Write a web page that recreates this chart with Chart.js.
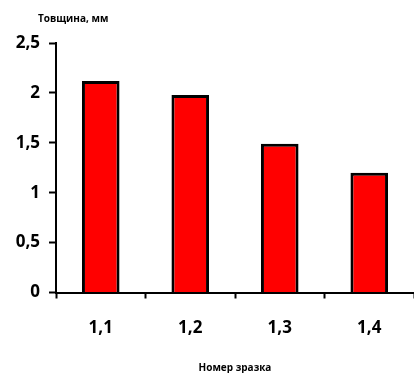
<!DOCTYPE html>
<html>
<head>
<meta charset="utf-8">
<script src="https://cdn.jsdelivr.net/npm/chart.js@4/dist/chart.umd.min.js"></script>
<style>
  html, body { margin: 0; padding: 0; background: #fff; }
  #wrap { width: 414px; height: 373px; }
</style>
</head>
<body>
<div id="wrap"><canvas id="c" width="414" height="373"></canvas></div>
<script>
// Sample numbers and measured thickness
const categories = ['1,1', '1,2', '1,3', '1,4'];
const thickness = [2.12, 1.98, 1.49, 1.2];
const yTickLabels = ['0', '0,5', '1', '1,5', '2', '2,5'];
const yAxisTitle = 'Товщина, мм';
const xAxisTitle = 'Номер зразка';

const FONT = '"Open Sans", "DejaVu Sans", sans-serif';

// Caption above the value axis
const yTitlePlugin = {
  id: 'yTitle',
  afterDraw(chart) {
    const ctx = chart.ctx;
    ctx.save();
    ctx.font = 'bold 10px ' + FONT;
    ctx.fillStyle = '#000';
    ctx.textAlign = 'left';
    ctx.textBaseline = 'middle';
    ctx.fillText(yAxisTitle, 38, 19);
    ctx.restore();
  }
};

new Chart(document.getElementById('c'), {
  type: 'bar',
  data: {
    labels: categories,
    datasets: [{
      data: thickness,
      backgroundColor: '#ff0000',
      borderColor: '#000000',
      borderWidth: 3,
      barPercentage: 0.42,
      categoryPercentage: 1
    }]
  },
  options: {
    responsive: false,
    animation: false,
    layout: { padding: { top: 43, right: 0, left: 0, bottom: 0 } },
    plugins: {
      legend: { display: false },
      tooltip: { enabled: false },
      title: { display: false }
    },
    scales: {
      x: {
        afterFit: (s) => { s.height = 80.5; },
        grid: {
          offset: true,
          drawOnChartArea: false,
          drawTicks: true,
          tickLength: 6,
          tickWidth: 2,
          tickColor: '#000'
        },
        border: { display: true, color: '#000', width: 2 },
        ticks: {
          color: '#000',
          font: { family: FONT, size: 17, weight: 'bold' },
          padding: 19,
          maxRotation: 0
        },
        title: {
          display: true,
          text: xAxisTitle,
          color: '#000',
          font: { family: FONT, size: 10, weight: 'bold' },
          padding: { top: 0, bottom: -1 }
        }
      },
      y: {
        min: 0,
        max: 2.5,
        afterFit: (s) => { s.width = 56; },
        grid: {
          drawOnChartArea: false,
          drawTicks: true,
          tickLength: 7,
          tickWidth: 2,
          tickColor: '#000'
        },
        border: { display: true, color: '#000', width: 2 },
        ticks: {
          stepSize: 0.5,
          color: '#000',
          font: { family: FONT, size: 17, weight: 'bold' },
          padding: 9,
          callback: (v, i) => yTickLabels[i]
        }
      }
    }
  },
  plugins: [yTitlePlugin]
});
</script>
</body>
</html>
